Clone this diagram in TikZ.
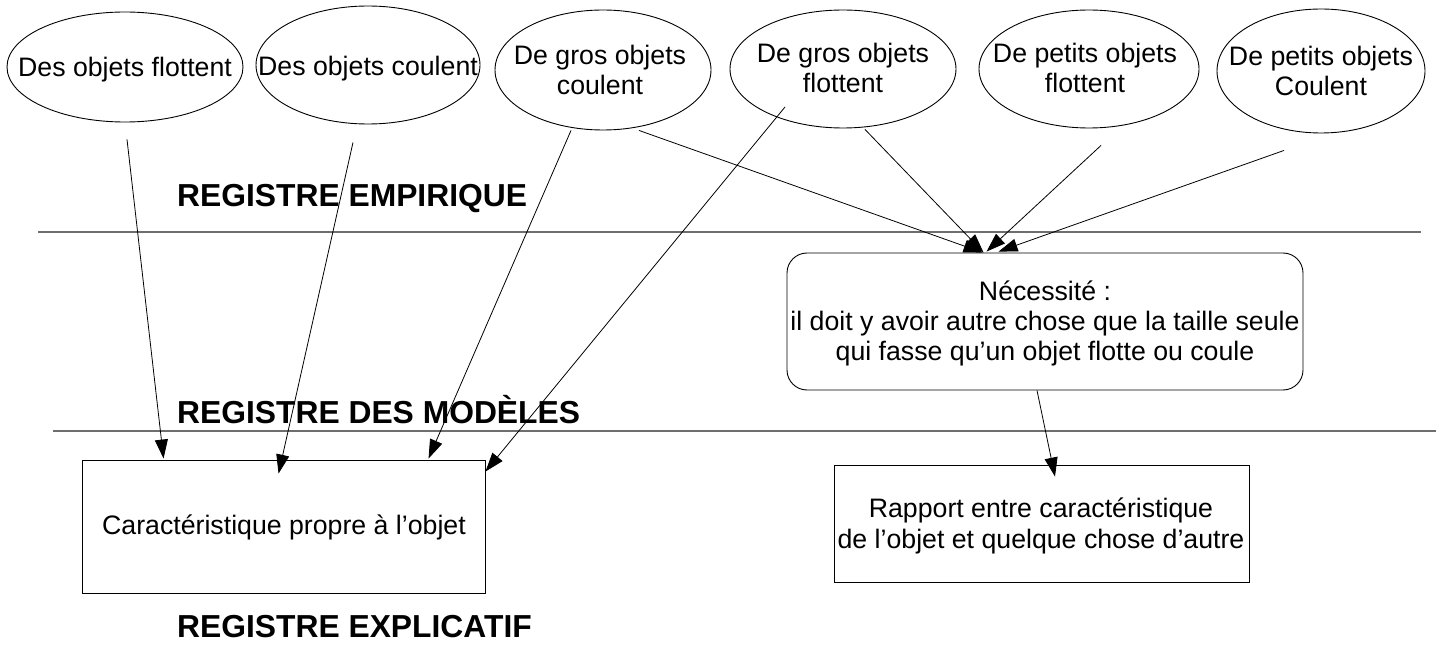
\documentclass[tikz,border=0pt]{standalone}
\usepackage{fontspec}
\setmainfont{Liberation Sans}
\usetikzlibrary{arrows.meta,calc,shapes.geometric}
\definecolor{sepgray}{RGB}{110,110,110}
\begin{document}
\begin{tikzpicture}[x=1pt,y=-1pt,
  ell/.style={draw, ellipse, line width=0.9pt, inner sep=0pt},
  txt/.style={font=\fontsize{26.7}{30}\selectfont, align=center, inner sep=0pt},
  boxtxt/.style={font=\fontsize{26.7}{31}\selectfont, align=center, inner sep=0pt},
  conn/.style={line width=0.8pt, -{Triangle[length=19pt,width=13pt]}},
  sepline/.style={draw=sepgray, line width=1.3pt},
  box/.style={draw, line width=0.9pt, inner sep=0pt},
  reg/.style={font=\fontsize{31.8}{36}\selectfont\bfseries, inner sep=0pt, anchor=base west}]
\useasboundingbox (0,0) rectangle (1441,647);

% separator lines
\coordinate (l1a) at (38,232);
\coordinate (l1b) at (1421,232);
\coordinate (l2a) at (53,431);
\coordinate (l2b) at (1436,431);
\draw[sepline] (l1a) -- (l1b);
\draw[sepline] (l2a) -- (l2b);

% register labels
\node[reg] (r1) at (177,207) {REGISTRE EMPIRIQUE};
\node[reg] (r2) at (177,423) {REGISTRE DES MODÈLES};
\node[reg] (r3) at (177,637) {REGISTRE EXPLICATIF};

% ellipses
\node[ell, minimum width=236pt, minimum height=110pt] (e1) at (125,67) {};
\node[ell, minimum width=224pt, minimum height=118pt] (e2) at (368,65) {};
\node[ell, minimum width=216pt, minimum height=120pt] (e3) at (603,70) {};
\node[ell, minimum width=226pt, minimum height=118pt] (e4) at (843,69) {};
\node[ell, minimum width=220pt, minimum height=118pt] (e5) at (1089,69) {};
\node[ell, minimum width=208pt, minimum height=124pt] (e6) at (1321,71) {};

\node[txt] (t1) at (125,70) {Des objets flottent};
\node[txt] (t2) at (368,69) {Des objets coulent};
\node[txt] (t3) at (600,70) {De gros objets\\coulent};
\node[txt] (t4) at (843,68) {De gros objets\\flottent};
\node[txt] (t5) at (1085,68) {De petits objets\\flottent};
\node[txt] (t6) at (1321,71) {De petits objets\\Coulent};

% boxes
\node[box, minimum width=403pt, minimum height=133pt] (bl) at (283.5,526.5) {};
\node[box, rounded corners=20pt, minimum width=516pt, minimum height=137pt] (rb) at (1045,321.5) {};
\node[box, minimum width=415pt, minimum height=117pt] (rp) at (1041.5,523.5) {};

\node[txt] (blt) at (284,527) {Caractéristique propre à l’objet};
\node[txt] (rbt) at (1045,323) {Nécessité :\\il doit y avoir autre chose que la taille seule\\qui fasse qu’un objet flotte ou coule};
\node[boxtxt] (rpt) at (1041,526) {Rapport entre caractéristique\\de l’objet et quelque chose d’autre};

% connectors
\draw[conn] ($(e1.south)+(2,17)$) -- ($(bl.north west)+(82,-1)$);
\draw[conn] ($(e2.south)+(-15,18)$) -- ($(bl.north west)+(197,14)$);
\draw[conn] ($(e3.south)+(-32,0)$) -- ($(bl.north west)+(347,-1)$);
\draw[conn] ($(e4.center)+(-58,38)$) -- ($(bl.north east)+(0,12)$);
\draw[conn] ($(e3.south)+(36,0)$) -- ($(rb.north west)+(196,0)$);
\draw[conn] ($(e4.south)+(22,1)$) -- ($(rb.north west)+(197,0)$);
\draw[conn] ($(e5.south)+(12,17)$) -- ($(rb.north west)+(200,-1)$);
\draw[conn] ($(e6.south)+(-37,17)$) -- ($(rb.north west)+(212,-1)$);
\draw[conn] ($(rb.south)+(-8,0)$) -- ($(rp.north)+(13.5,12)$);
\end{tikzpicture}
\end{document}
